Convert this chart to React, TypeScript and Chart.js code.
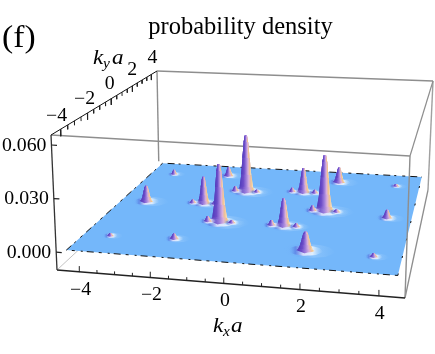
import React, { useEffect, useRef } from "react";
import { Chart, registerables } from "chart.js";

Chart.register(...registerables);

const titleText = "probability density";
const panelTag = "(f)";

const kTicks = [-4, -3.5, -3, -2.5, -2, -1.5, -1, -0.5, 0, 0.5, 1, 1.5, 2, 2.5, 3, 3.5, 4];
const kLabels = [-4, -2, 0, 2, 4];
const zTicks = [0, 0.03, 0.06];
const zLabels = ["0.000", "0.030", "0.060"];

const boxRange = 4.65;
const surfaceRange = 4.44;
const zMin = -0.01;
const zMax = 0.0656;

// Peaks of the density surface
const peakKx = [-0.84, -0.94, -1.85, -1.81, -3.66, -3.64, -1.83, -3.66, 1.87, 0.94, 0.94, 1.89, 1.88, 3.74, 3.71, 3.71,
  -1.2, -0.5, -1.3, -0.58, -2.2, -1.5, 1.51, 2.23, 0.58, 1.3, 0.58, 1.3];
const peakKy = [1.75, -1.31, 0.3, 3.37, 3.21, 0.14, -2.96, -3.09, 0.28, 2.02, -1.28, -3.16, 3.32, 0.01, -3.24, 3.24,
  1.75, 1.75, -1.31, -1.31, 0.3, 0.3, 0.28, 0.28, 2.02, 2.02, -1.28, -1.28];
const peakZ = [0.037, 0.035, 0.017, 0.006, 0.003, 0.01, 0.003, 0.0015, 0.035, 0.016, 0.0165, 0.0107, 0.01, 0.005, 0.002, 0.0015,
  0.003, 0.0015, 0.003, 0.0015, 0.002, 0.002, 0.003, 0.0015, 0.0025, 0.002, 0.003, 0.002];
const peakWidth = [0.29, 0.29, 0.22, 0.18, 0.13, 0.23, 0.15, 0.12, 0.29, 0.22, 0.23, 0.26, 0.21, 0.17, 0.13, 0.12,
  0.14, 0.13, 0.14, 0.13, 0.13, 0.13, 0.14, 0.13, 0.13, 0.13, 0.14, 0.13];

// Silhouette of one peak: radius fraction against height fraction
const profileR = [1, 0.76, 0.56, 0.4, 0.25, 0.12];
const profileZ = [0, 0.08, 0.3, 0.6, 0.88, 1];
const skirtX = [1, 0.7, 0, -0.7, -1, -0.7, 0, 0.7];
const skirtY = [0, 0.7, 1, 0.7, 0, -0.7, -1, -0.7];

type P = { x: number; y: number };
const cornersBottom: P[] = [{ x: 57, y: 270 }, { x: 405, y: 298 }, { x: 428, y: 190 }, { x: 159, y: 175 }];
const cornersTop: P[] = [{ x: 51, y: 135 }, { x: 410, y: 156 }, { x: 433, y: 81 }, { x: 157, y: 71 }];

function project(kx: number, ky: number, z: number): P {
  const t = (z - zMin) / (zMax - zMin);
  const c = cornersBottom.map((b, i) => ({
    x: b.x + (cornersTop[i].x - b.x) * t,
    y: b.y + (cornersTop[i].y - b.y) * t,
  }));
  const u = (kx + boxRange) / (2 * boxRange);
  const v = (ky + boxRange) / (2 * boxRange);
  const [p00, p10, p11, p01] = c;
  const dx1 = p10.x - p11.x, dx2 = p01.x - p11.x, sx = p00.x - p10.x + p11.x - p01.x;
  const dy1 = p10.y - p11.y, dy2 = p01.y - p11.y, sy = p00.y - p10.y + p11.y - p01.y;
  const den = dx1 * dy2 - dx2 * dy1;
  const g = (sx * dy2 - dx2 * sy) / den;
  const h = (dx1 * sy - sx * dy1) / den;
  const a = p10.x - p00.x + g * p10.x, b = p01.x - p00.x + h * p01.x;
  const d = p10.y - p00.y + g * p10.y, e = p01.y - p00.y + h * p01.y;
  const w = g * u + h * v + 1;
  return { x: (a * u + b * v + p00.x) / w, y: (d * u + e * v + p00.y) / w };
}

const line = (data: P[], color: string, width: number, extra: any = {}) => ({
  data, showLine: true, borderColor: color, borderWidth: width, pointRadius: 0, clip: false, fill: false, ...extra,
});

function hGradient(c: any, x0: number, x1: number, stops: [number, string][]) {
  const sc = c.chart.scales.x;
  const toPx = (v: number) => {
    const p = sc ? sc.getPixelForValue(v) : v;
    return Number.isFinite(p) ? p : v;
  };
  const g = c.chart.ctx.createLinearGradient(toPx(x0), 0, toPx(x1), 0);
  stops.forEach(([o, col]) => g.addColorStop(o, col));
  return g;
}

const peakStops: [number, string][] = [
  [0, "#4e3cbc"], [0.28, "#6c4cc8"], [0.5, "#a080dc"], [0.68, "#dab0dc"], [0.85, "#f2c48c"], [1, "#f4e8d8"],
];
const skirtStops: [number, string][] = [
  [0, "rgba(116,183,250,0)"], [0.2, "rgba(84,112,222,0.6)"], [0.42, "rgba(225,225,252,0.9)"],
  [0.7, "rgba(255,255,255,0.72)"], [1, "rgba(200,230,255,0)"],
];
const haloStops: [number, string][] = [
  [0, "rgba(116,183,250,0)"], [0.3, "rgba(100,150,240,0.16)"], [0.6, "rgba(235,245,255,0.2)"],
  [1, "rgba(200,230,255,0)"],
];

function buildDatasets() {
  const B = boxRange;
  const gray = "#8e8e8e";
  const list: any[] = [];
  // Back and upper edges of the box
  list.push(line([project(-B, B, zMax), project(-B, B, 0)], gray, 1.4));
  list.push(line([project(B, B, zMax), project(B, B, zMin)], "#a0a0a0", 1.4));
  list.push(line([project(-B, B, zMax), project(B, B, zMax)], gray, 1.3));
  list.push(line([project(-B, -B, zMax), project(B, -B, zMax)], gray, 1.3));
  list.push(line([project(B, -B, zMax), project(B, B, zMax)], gray, 1.2));
  list.push(line([project(-B, -B, zMin), project(-B, B, zMin)], "#b4b4b4", 0.8));
  list.push(line([project(B, -B, zMin), project(B, B, zMin)], gray, 1.3));
  // Surface
  const S = surfaceRange;
  const outline = [project(-S, -S, 0), project(S, -S, 0), project(S, S, 0), project(-S, S, 0)];
  list.push(line(outline, "transparent", 0, { fill: "shape", backgroundColor: "#74b7fa" }));
  list.push(line([outline[1], outline[0], outline[3], outline[2]], "#111", 1, { borderDash: [3, 5, 7, 4, 2, 6] }));
  list.push(line([outline[1], outline[2]], "#111", 1, { borderDash: [2, 16] }));
  // Front edges
  list.push(line([project(B, -B, zMax), project(B, -B, zMin)], gray, 1.4));
  list.push(line([project(-B, -B, zMin), project(B, -B, zMin)], "#222", 1.3));
  list.push(line([project(-B, -B, zMax), project(-B, -B, zMin)], "#333", 1.3));
  list.push(line([project(-B, -B, zMax), project(-B, B, zMax)], "#111", 1));
  // Ticks
  kTicks.forEach((t) => {
    const major = t % 2 === 0;
    list.push(line([project(t, -B, zMin), project(t, -B, zMin + (major ? 0.0032 : 0.0018))], "#222", 1));
    list.push(line([project(-B, t, zMax), project(-B, t, zMax - (major ? 0.004 : 0.0025))], "#222", 1));
  });
  zTicks.forEach((t) => {
    list.push(line([project(-B, -B, t), project(-B + 0.16, -B, t)], "#222", 1.2));
  });
  // Peaks, back to front
  const order = peakKx.map((_, i) => i).sort((a, b) => peakKy[b] - peakKy[a]);
  const ellipse = (kx: number, ky: number, rx: number, ry: number, stops: [number, string][]) => {
    const pts = skirtX.map((sx, j) => project(kx + sx * rx, ky + skirtY[j] * ry, 0));
    const x0 = pts[4].x, x1 = pts[0].x;
    list.push(line(pts, "transparent", 0, {
      fill: "shape", tension: 0.3,
      backgroundColor: (c: any) => hGradient(c, x0, x1, stops),
    }));
  };
  order.forEach((i) => {
    const kx = peakKx[i], ky = peakKy[i], zp = peakZ[i], w = peakWidth[i];
    ellipse(kx + w * 0.3, ky, w * 2.8, w * 2.0, haloStops);
    ellipse(kx, ky, w * 1.8, w * 1.5, skirtStops);
    const left = profileR.map((r, j) => project(kx - r * w, ky, zp * profileZ[j]));
    const right = profileR.map((r, j) => project(kx + r * w, ky, zp * profileZ[j]));
    const foot = project(kx, ky - w * 0.8, 0);
    for (let j = 0; j < left.length - 1; j++) {
      const poly = [...left.slice(j), ...right.slice(j).reverse(), ...(j === 0 ? [foot] : [])];
      const x0 = left[j].x, x1 = right[j].x;
      list.push(line(poly, "transparent", 0, {
        fill: "shape", tension: 0.01,
        backgroundColor: (c: any) => hGradient(c, x0, x1, peakStops),
      }));
    }
  });
  return list.map((d, i) => ({ ...d, order: list.length - i }));
}

const SERIF = '"Liberation Serif", serif';

function text(ctx: any, s: string, x: number, y: number, font: string, align: string, stretch = 1.1, base = "middle") {
  ctx.save();
  ctx.translate(x, y);
  ctx.scale(stretch, 1);
  ctx.font = font;
  ctx.textAlign = align;
  ctx.textBaseline = base;
  ctx.fillStyle = "#000";
  ctx.fillText(s, 0, 0);
  ctx.restore();
}

const labelsPlugin = {
  id: "axisText",
  afterDraw(chart: any) {
    const ctx = chart.ctx;
    const sx = chart.scales.x, sy = chart.scales.y;
    const px = (p: P) => ({ x: sx.getPixelForValue(p.x), y: sy.getPixelForValue(p.y) });
    const tickFont = `18px ${SERIF}`;
    const B = boxRange;
    text(ctx, panelTag, 2, 47, `32px ${SERIF}`, "left", 1.05, "alphabetic");
    kLabels.forEach((t) => {
      const a = px(project(t, -B, zMin));
      const s = t < 0 ? `\u2212${-t}` : `${t}`;
      text(ctx, s, a.x + 1, a.y + 18, tickFont, "center");
      const b = px(project(-B, t, zMax));
      text(ctx, s, b.x - 4 + (t + 4) * 0.65, b.y - 13 - (t + 4) * 0.4, tickFont, "center");
    });
    zTicks.forEach((t, i) => {
      const a = px(project(-B, -B, t));
      text(ctx, zLabels[i], a.x - 5, a.y + 1, tickFont, "right");
    });
    const it = `italic 21px ${SERIF}`, sub = `italic 14px ${SERIF}`;
    text(ctx, "k", 213, 332, it, "left", 1.1, "alphabetic");
    text(ctx, "x", 223, 336, sub, "left", 1.1, "alphabetic");
    text(ctx, "a", 231, 332, it, "left", 1.1, "alphabetic");
    text(ctx, "k", 93, 64, it, "left", 1.1, "alphabetic");
    text(ctx, "y", 103, 68, sub, "left", 1.1, "alphabetic");
    text(ctx, "a", 112, 64, it, "left", 1.1, "alphabetic");
  },
};

export default function App() {
  const ref = useRef<HTMLCanvasElement>(null);
  useEffect(() => {
    const chart = new Chart(ref.current as HTMLCanvasElement, {
      type: "scatter",
      data: { datasets: buildDatasets() as any },
      options: {
        animation: false,
        responsive: false,
        events: [],
        layout: { padding: { left: 46, top: 13, right: 0, bottom: 0 } },
        scales: {
          x: { type: "linear", display: false, min: 46, max: 435 },
          y: { type: "linear", display: false, reverse: true, min: 42.4, max: 354 },
        },
        plugins: {
          legend: { display: false },
          tooltip: { enabled: false },
          title: {
            display: true,
            text: titleText,
            color: "#000",
            padding: 0,
            font: { family: "Liberation Serif", size: 24.5, weight: "normal", lineHeight: 1.2 },
          },
        },
      } as any,
      plugins: [labelsPlugin as any],
    });
    return () => chart.destroy();
  }, []);
  return (
    <div style={{ position: "absolute", left: 0, top: 0, width: 435, height: 354, background: "#fff" }}>
      <canvas ref={ref} width={435} height={354} style={{ display: "block", filter: "blur(0.5px)" }} />
    </div>
  );
}
